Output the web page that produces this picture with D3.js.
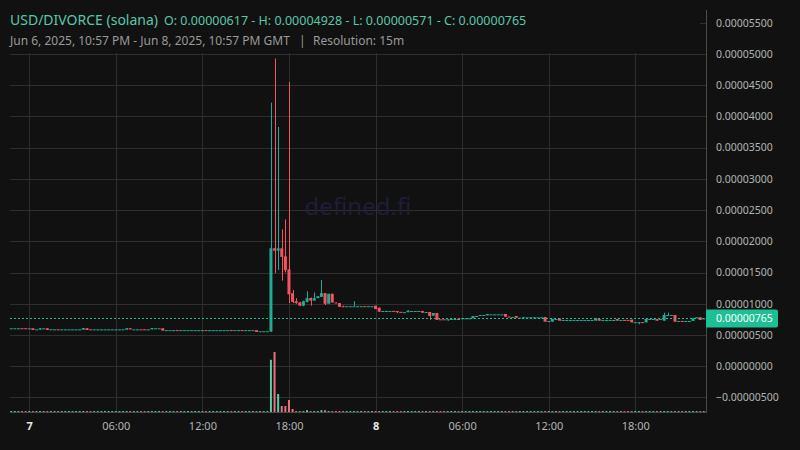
<!DOCTYPE html>
<html><head><meta charset="utf-8">
<script src="https://cdn.jsdelivr.net/npm/d3@7"></script>
<style>html,body{margin:0;padding:0;background:#111111;overflow:hidden}svg{display:block}</style>
</head><body><svg id="c" width="800" height="450"></svg>
<script>
// ---- data (prices in units of 0.000001 USD) ----
const UNIT = 1e-6;
const startTime = Date.UTC(2025, 5, 6, 22, 45); // first 15m bar
const barMinutes = 15;
const open = [
6.07,6.07,6.07,6.08,6.08,6.07,6.07,5.90,5.85,6.07,
6.07,5.92,5.90,5.91,5.90,5.90,5.90,5.90,5.90,5.90,
5.85,6.07,5.91,5.90,5.90,5.90,5.90,5.90,5.90,5.90,
5.90,5.90,5.85,6.07,5.90,5.90,5.91,5.91,5.90,5.90,
6.07,6.07,6.07,5.77,5.77,5.77,5.78,5.77,5.77,5.77,
5.77,5.77,5.77,5.77,5.78,5.77,5.77,5.77,5.77,5.77,
5.77,5.78,5.77,5.77,5.78,5.77,5.77,5.77,5.77,5.60,
5.60,5.60,5.55,18.88,18.50,18.88,17.60,15.50,11.70,10.40,
10.20,9.70,10.30,10.90,10.50,10.90,11.10,11.70,10.00,11.60,
10.20,10.10,9.60,9.60,9.60,9.60,9.60,9.60,9.61,9.60,
9.60,9.70,9.37,8.84,8.84,8.84,8.85,8.84,8.70,8.60,
8.65,8.84,8.84,8.84,8.84,8.68,8.68,8.09,8.52,7.51,
7.51,7.50,7.45,7.50,7.56,7.56,7.67,7.67,7.67,8.04,
8.04,8.20,8.15,8.30,8.30,8.30,8.30,8.36,7.95,7.88,
8.04,7.77,7.67,7.83,7.83,7.67,7.83,7.83,7.88,7.24,
7.13,7.56,7.61,7.40,7.40,7.40,7.40,7.40,7.40,7.40,
7.40,7.40,7.29,7.56,7.40,7.40,7.40,7.40,7.56,7.40,
7.41,7.41,7.45,7.05,7.05,7.06,7.02,7.56,7.56,7.56,
7.56,7.29,8.20,8.20,8.20,7.24,7.25,7.24,7.24,7.24,
7.67,7.83,7.60];
const high = [
6.07,6.07,6.07,6.08,6.08,6.07,6.07,5.90,6.07,6.07,
6.07,5.92,5.90,5.91,5.90,5.90,5.90,5.90,5.90,5.90,
6.10,6.07,5.91,5.90,5.90,5.90,5.90,5.90,5.90,5.90,
5.90,5.90,6.07,6.07,5.90,5.90,5.91,5.91,5.90,6.10,
6.07,6.07,6.07,5.77,5.77,5.77,5.78,5.77,5.77,5.77,
5.77,5.77,5.77,5.77,5.78,5.77,5.77,5.77,5.77,5.77,
5.77,5.78,5.77,5.77,5.78,5.77,5.77,5.77,5.77,5.60,
5.60,5.60,42.20,49.28,38.30,21.90,23.50,45.50,12.20,10.90,
10.30,10.50,12.00,11.00,11.80,11.20,13.80,11.70,11.60,11.60,
10.20,10.10,9.70,9.60,9.60,10.40,9.60,9.60,9.61,9.60,
9.60,9.70,9.37,8.84,8.84,8.84,8.85,8.84,8.70,8.65,
8.90,8.84,8.84,8.84,8.84,8.68,8.68,8.52,8.52,7.51,
7.51,7.50,7.56,7.56,7.56,7.67,7.67,7.67,8.04,8.04,
8.20,8.20,8.36,8.30,8.30,8.30,8.30,8.36,7.95,7.88,
8.04,7.77,7.83,7.83,7.83,7.83,7.83,7.83,7.88,7.24,
7.56,7.56,7.61,7.40,7.40,7.40,7.40,7.40,7.40,7.40,
7.40,7.40,7.67,7.56,7.40,7.40,7.40,7.40,7.56,7.40,
7.41,7.41,7.45,7.05,7.05,7.06,7.56,7.56,7.56,7.56,
7.56,8.57,8.57,8.20,8.20,7.24,7.25,7.24,7.24,7.67,
7.83,7.83,7.65];
const low = [
6.07,6.07,6.07,6.07,6.07,6.07,5.80,5.90,5.85,6.07,
5.80,5.92,5.90,5.90,5.90,5.90,5.90,5.90,5.90,5.90,
5.85,5.80,5.90,5.90,5.90,5.90,5.90,5.90,5.90,5.90,
5.90,5.90,5.85,5.90,5.90,5.90,5.90,5.90,5.90,5.90,
6.07,6.07,5.70,5.77,5.77,5.77,5.77,5.77,5.77,5.77,
5.77,5.77,5.77,5.77,5.77,5.77,5.77,5.77,5.77,5.77,
5.77,5.77,5.77,5.77,5.77,5.77,5.77,5.77,5.50,5.60,
5.60,5.60,5.50,14.90,15.40,13.70,15.00,10.10,10.10,10.00,
9.60,9.60,10.20,9.70,10.50,10.90,11.10,9.80,10.00,10.20,
10.10,9.50,9.50,9.60,9.60,9.60,9.60,9.60,9.60,9.60,
9.60,9.15,8.73,8.84,8.84,8.84,8.80,8.50,8.65,8.60,
8.65,8.84,8.84,8.84,8.57,8.68,7.40,8.09,7.40,7.50,
7.50,7.30,7.45,7.50,7.50,7.56,7.67,7.67,7.67,8.04,
8.04,8.20,8.15,8.30,8.30,8.30,8.30,7.93,7.93,7.88,
7.77,7.77,7.67,7.83,7.83,7.67,7.83,7.83,7.13,7.24,
7.13,7.56,7.29,7.40,7.40,7.40,7.40,7.40,7.40,7.40,
7.40,7.40,7.29,7.29,7.40,7.40,7.40,7.40,7.29,7.40,
7.40,7.40,7.02,7.05,6.70,7.05,7.02,7.56,7.56,7.29,
7.56,7.29,8.20,8.20,7.13,7.24,7.24,7.24,7.24,7.24,
7.67,7.40,7.60];
const close = [
6.07,6.07,6.07,6.07,6.07,6.07,5.80,5.90,6.07,6.07,
5.80,5.92,5.90,5.90,5.90,5.90,5.90,5.90,5.90,5.90,
6.10,5.80,5.90,5.90,5.90,5.90,5.90,5.90,5.90,5.90,
5.90,5.90,6.07,5.90,5.90,5.90,5.90,5.90,5.90,6.10,
6.07,6.07,5.70,5.77,5.77,5.77,5.77,5.77,5.77,5.77,
5.77,5.77,5.77,5.77,5.77,5.77,5.77,5.77,5.77,5.77,
5.77,5.77,5.77,5.77,5.77,5.77,5.77,5.77,5.50,5.60,
5.60,5.60,18.88,18.50,18.88,17.50,15.40,11.50,10.30,10.10,
9.70,10.40,10.90,10.50,10.90,11.20,11.70,10.00,11.60,10.20,
10.10,9.50,9.50,9.60,9.60,9.60,9.60,9.60,9.60,9.60,
9.60,9.15,8.73,8.84,8.84,8.84,8.80,8.65,8.65,8.65,
8.90,8.84,8.84,8.84,8.57,8.68,8.04,8.52,7.40,7.50,
7.50,7.50,7.56,7.56,7.50,7.67,7.67,7.67,8.04,8.04,
8.20,8.20,8.36,8.30,8.30,8.30,8.30,7.93,7.93,7.88,
7.77,7.77,7.83,7.83,7.83,7.83,7.83,7.83,7.13,7.24,
7.56,7.56,7.29,7.40,7.40,7.40,7.40,7.40,7.40,7.40,
7.40,7.40,7.67,7.29,7.40,7.40,7.40,7.40,7.29,7.40,
7.40,7.40,7.02,7.05,7.05,7.05,7.56,7.56,7.56,7.29,
7.56,8.20,8.20,8.20,7.13,7.24,7.24,7.24,7.24,7.67,
7.83,7.40,7.65];
// relative volume (largest bar = 100)
const volume = [
1.5,1.5,1.5,1.5,1.5,1.5,1.5,1.5,1.5,1.5,
1.5,1.5,1.5,1.5,1.5,1.5,1.5,1.5,1.5,1.5,
1.5,1.5,1.5,1.5,1.5,1.5,1.5,1.5,1.5,1.5,
1.5,1.5,1.5,1.5,1.5,1.5,1.5,1.5,1.5,1.5,
1.5,1.5,1.5,1.5,1.5,1.5,1.5,1.5,1.5,1.5,
1.5,1.5,1.5,1.5,1.5,1.5,1.5,1.5,1.5,1.5,
1.5,1.5,1.5,1.5,1.5,1.5,1.5,1.5,1.5,1.5,
1.5,1.5,87,100,30,10,10,20,5,1.5,
1.5,1.5,3,1.5,1.5,1.5,3,3,1.5,1.5,
1.5,1.5,1.5,1.5,1.5,1.5,1.5,1.5,1.5,1.5,
1.5,1.5,1.5,1.5,1.5,1.5,1.5,1.5,1.5,1.5,
1.5,1.5,1.5,1.5,1.5,1.5,1.5,1.5,1.5,1.5,
1.5,1.5,1.5,1.5,1.5,1.5,1.5,1.5,1.5,1.5,
1.5,1.5,1.5,1.5,1.5,1.5,1.5,1.5,1.5,1.5,
1.5,1.5,1.5,1.5,1.5,1.5,1.5,1.5,1.5,1.5,
1.5,1.5,1.5,1.5,1.5,1.5,1.5,1.5,1.5,1.5,
1.5,1.5,1.5,1.5,1.5,1.5,1.5,1.5,1.5,1.5,
1.5,1.5,1.5,1.5,1.5,1.5,1.5,1.5,1.5,1.5,
1.5,1.5,1.5,1.5,1.5,1.5,1.5,1.5,1.5,1.5,
1.5,1.5,1.5];
const priceTicks = [-5,0,5,10,15,20,25,30,35,40,45,50,55];
const timeTicks = [
  Date.UTC(2025,5,7,0), Date.UTC(2025,5,7,6), Date.UTC(2025,5,7,12), Date.UTC(2025,5,7,18),
  Date.UTC(2025,5,8,0), Date.UTC(2025,5,8,6), Date.UTC(2025,5,8,12), Date.UTC(2025,5,8,18)];
const timeTickLabels = ["7","06:00","12:00","18:00","8","06:00","12:00","18:00"];
const lastPrice = 7.65;
const titleText = "USD/DIVORCE (solana)";
const ohlcText = "O: 0.00000617 - H: 0.00004928 - L: 0.00000571 - C: 0.00000765";
const rangeText = "Jun 6, 2025, 10:57 PM - Jun 8, 2025, 10:57 PM GMT";
const resText = "Resolution: 15m";

// ---- layout ----
const L = 10, R = 706, T = 10, B = 412;
const UP = "#22ab94", DOWN = "#f7525f";
const UPV = "#5cc9a7", DOWNV = "#e8707e";
const FONT = "'Noto Sans', 'Open Sans', sans-serif";

const svg = d3.select("#c");
svg.append("rect").attr("width",800).attr("height",450).attr("fill","#111111");

const x = d3.scaleUtc()
  .domain([Date.UTC(2025,5,6,22,40), Date.UTC(2025,5,8,22,54)])
  .range([L, R]);
const y = d3.scaleLinear().domain([0, 55]).range([366.2, 22.7]);
const yv = d3.scaleLinear().domain([0, 100]).range([B, B - 60]);

const bars = open.map((o, i) => ({
  t: startTime + i * barMinutes * 60000,
  o, h: high[i], l: low[i], c: close[i], v: volume[i]
}));

// grid
const grid = svg.append("g").attr("stroke", "#2e2e2e").attr("stroke-width", 1);
grid.selectAll("line.h").data(priceTicks).join("line")
  .attr("x1", L).attr("x2", R)
  .attr("y1", d => Math.round(y(d)) + 0.5).attr("y2", d => Math.round(y(d)) + 0.5);
grid.selectAll("line.v").data(timeTicks).join("line")
  .attr("y1", T).attr("y2", B)
  .attr("x1", d => Math.round(x(d)) + 0.5).attr("x2", d => Math.round(x(d)) + 0.5);

// watermark
svg.append("text").attr("x", (L + R) / 2).attr("y", 215)
  .attr("text-anchor", "middle").attr("font-family", FONT).attr("font-size", 24)
  .attr("fill", "#1e1d3a").text("defined.fi");

// volume
svg.append("g").selectAll("rect").data(bars).join("rect")
  .attr("x", d => x(d.t) - 1).attr("width", 2)
  .attr("y", d => yv(d.v)).attr("height", d => B - yv(d.v))
  .attr("fill", d => d.c >= d.o ? UPV : DOWNV);

// candles
const cg = svg.append("g");
cg.selectAll("line").data(bars).join("line")
  .attr("x1", d => Math.round(x(d.t)) + 0.5).attr("x2", d => Math.round(x(d.t)) + 0.5)
  .attr("y1", d => y(d.h)).attr("y2", d => y(d.l) + 0.01)
  .attr("stroke", d => d.c >= d.o ? UP : DOWN).attr("stroke-width", 1);
cg.selectAll("rect").data(bars).join("rect")
  .attr("x", d => x(d.t) - 1.5).attr("width", 3)
  .attr("y", d => y(Math.max(d.o, d.c)))
  .attr("height", d => Math.max(1, y(Math.min(d.o, d.c)) - y(Math.max(d.o, d.c))))
  .attr("fill", d => d.c >= d.o ? UP : DOWN);

// last price line
svg.append("line").attr("x1", L).attr("x2", R)
  .attr("y1", Math.round(y(lastPrice)) + 0.5).attr("y2", Math.round(y(lastPrice)) + 0.5)
  .attr("stroke", "#1dbf95").attr("stroke-width", 1.2).attr("stroke-dasharray", "2,2");

// header background + texts
svg.append("rect").attr("x", L).attr("y", T).attr("width", 690).attr("height", 43).attr("fill", "#111111");
svg.append("text").attr("x", 10).attr("y", 25).attr("font-family", FONT).attr("font-size", 14)
  .attr("fill", "#5ac8aa").text(titleText);
svg.append("text").attr("x", 164).attr("y", 25).attr("font-family", FONT).attr("font-size", 12.5)
  .attr("fill", "#5ac8aa").text(ohlcText);
svg.append("text").attr("x", 10).attr("y", 45).attr("font-family", FONT).attr("font-size", 12)
  .attr("fill", "#9a9a9a").text(rangeText);
svg.append("text").attr("x", 299).attr("y", 45).attr("font-family", FONT).attr("font-size", 12)
  .attr("fill", "#9a9a9a").text("|");
svg.append("text").attr("x", 313).attr("y", 45).attr("font-family", FONT).attr("font-size", 12)
  .attr("fill", "#9a9a9a").text(resText);

// frame lines
svg.append("line").attr("x1", R + 0.5).attr("x2", R + 0.5).attr("y1", T).attr("y2", B + 1)
  .attr("stroke", "#4a4a4a");
svg.append("line").attr("x1", L).attr("x2", R).attr("y1", B + 0.5).attr("y2", B + 0.5)
  .attr("stroke", "#4a4a4a");

// right axis
const fmt = v => (v < 0 ? "\u2212" : "") + Math.abs(v * UNIT).toFixed(8);
const ya = svg.append("g").attr("transform", `translate(${R},0)`)
  .call(d3.axisRight(y).tickValues(priceTicks).tickFormat(fmt).tickSize(0).tickPadding(10));
ya.select(".domain").remove();
ya.selectAll("text").attr("font-family", FONT).attr("font-size", 10.5).attr("fill", "#b4b4b4");

// last price label
const ly = y(lastPrice);
svg.append("path")
  .attr("d", `M${R},${ly - 9}H${R + 70}a2,2 0 0 1 2,2V${ly + 7}a2,2 0 0 1 -2,2H${R}Z`)
  .attr("fill", "#1dbf95");
svg.append("text").attr("x", R + 10).attr("y", ly).attr("dy", "0.35em")
  .attr("font-family", FONT).attr("font-size", 10.5).attr("fill", "#ffffff")
  .text(fmt(lastPrice));

// bottom axis
const xa = svg.append("g").attr("transform", `translate(0,${B})`)
  .call(d3.axisBottom(x).tickValues(timeTicks).tickFormat((d, i) => timeTickLabels[i]).tickSize(0).tickPadding(10));
xa.select(".domain").remove();
xa.selectAll("text").attr("font-family", FONT).attr("font-size", 11)
  .attr("fill", (d, i) => /^\d$/.test(timeTickLabels[i]) ? "#e6e6e6" : "#b4b4b4")
  .attr("font-weight", (d, i) => /^\d$/.test(timeTickLabels[i]) ? "bold" : "normal");
</script></body></html>
